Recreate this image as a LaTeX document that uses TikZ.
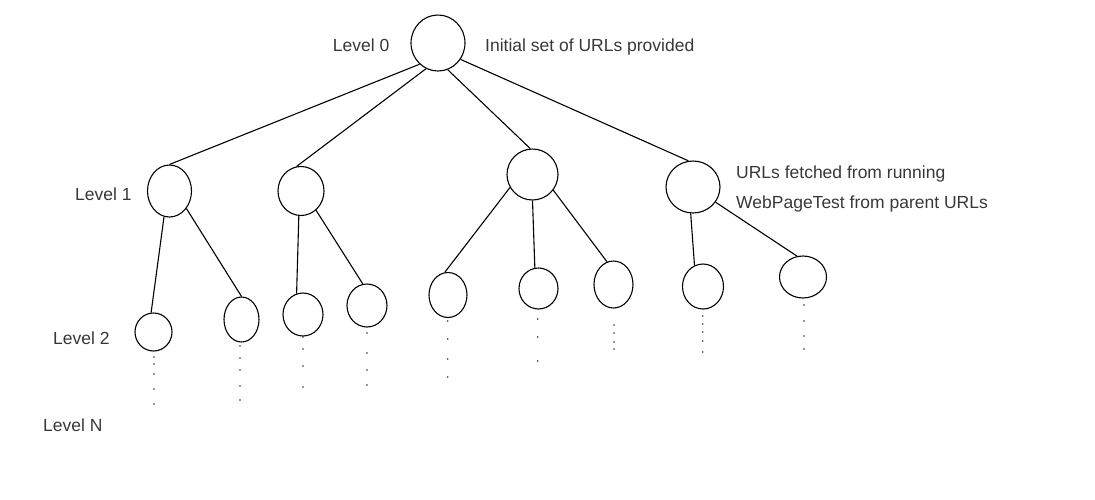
\documentclass[tikz,border=0pt]{standalone}
\usepackage{fontspec}
\setmainfont{Liberation Sans}
\usetikzlibrary{shapes.geometric}
\newcommand{\trail}[2]{%
  \foreach \yy in {#2} \fill[black!80] (#1,\yy) circle (0.9pt);
}

\begin{document}
\begin{tikzpicture}[x=1pt,y=-1pt,
    url/.style={draw,ellipse,inner sep=0pt,line width=1.1pt},
    lbl/.style={text=black!78,inner sep=0pt,font=\fontsize{17.5}{21}\selectfont},
    link/.style={line width=1.1pt}]
  \useasboundingbox (0,0) rectangle (1095,499);
  % level 0
  \node[url,minimum width=54pt,minimum height=56pt] (root) at (438,43) {};
  % level 1
  \node[url,minimum width=44pt,minimum height=52pt] (A) at (169.5,191) {};
  \node[url,minimum width=46pt,minimum height=49pt] (B) at (301,191) {};
  \node[url,minimum width=51pt,minimum height=51pt] (C) at (532.5,174.5) {};
  \node[url,minimum width=54pt,minimum height=52pt] (D) at (693,187) {};
  % level 2
  \node[url,minimum width=37pt,minimum height=38pt] (a1) at (153.5,332) {};
  \node[url,minimum width=35pt,minimum height=45pt] (a2) at (241.5,319.5) {};
  \node[url,minimum width=40pt,minimum height=43pt] (b1) at (303,314.5) {};
  \node[url,minimum width=40pt,minimum height=43pt] (b2) at (367,305.5) {};
  \node[url,minimum width=38pt,minimum height=45pt] (c1) at (448,295) {};
  \node[url,minimum width=39pt,minimum height=41pt] (c2) at (538.5,288.5) {};
  \node[url,minimum width=39pt,minimum height=47pt] (c3) at (613.5,284.5) {};
  \node[url,minimum width=41pt,minimum height=45pt] (d1) at (703,286.5) {};
  \node[url,minimum width=47pt,minimum height=42pt] (d2) at (803,277) {};

  \draw[link] (root.229) -- (A.90);
  \draw[link] (root.245) -- (B.100);
  \draw[link] (root.290) -- (C.95);
  \draw[link] (root.324) -- (D.100);
  \draw[link] (A.258) -- (a1.97);
  \draw[link] (A.314) -- (a2.90);
  \draw[link] (B.265) -- (b1.107);
  \draw[link] (B.308) -- (b2.101);
  \draw[link] (C.210) -- (c1.98);
  \draw[link] (C.270) -- (c2.100);
  \draw[link] (C.323) -- (c3.106);
  \draw[link] (D.265) -- (d1.112);
  \draw[link] (D.326) -- (d2.106);

  % dots below level 2
  \trail{154}{357,364,374,389,404}
  \trail{240}{346,358,370,386,400}
  \trail{303}{337,349,366,387}
  \trail{367}{333,353,370,385}
  \trail{447.7}{321,339,359,377}
  \trail{537.7}{319,337,361}
  \trail{614}{325,333,342,349}
  \trail{702.7}{316,324,332,341,352}
  \trail{804}{305,321,336,349}

  % labels
  \node[lbl,anchor=base east] (l0) at (389.5,51) {Level 0};
  \node[lbl,anchor=base west] (t0) at (485,51) {Initial set of URLs provided};
  \node[lbl,anchor=base west] (l1) at (75,200) {Level 1};
  \node[lbl,anchor=base west] (l2) at (53,344) {Level 2};
  \node[lbl,anchor=base west] (ln) at (43,431) {Level N};
  \node[lbl,anchor=base west] (t1) at (736,178) {URLs fetched from running};
  \node[lbl,anchor=base west] (t2) at (736,208) {WebPageTest from parent URLs};
\end{tikzpicture}
\end{document}
